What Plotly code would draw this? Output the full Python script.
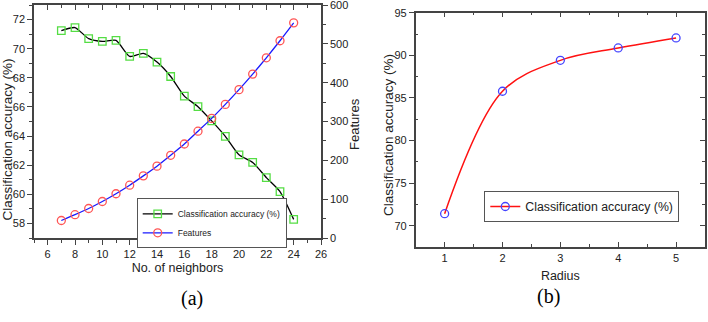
import plotly.graph_objects as go

neighbors = [7, 8, 9, 10, 11, 12, 13, 14, 15, 16, 17, 18, 19, 20, 21, 22, 23, 24]
accuracy_a = [71.24, 71.45, 70.69, 70.50, 70.57, 69.47, 69.68, 69.08, 68.09, 66.74,
              66.02, 65.04, 63.98, 62.71, 62.19, 61.15, 60.19, 58.28]
features = [45, 60, 76, 94, 114, 136, 160, 185, 213, 242, 275, 308, 344, 382, 422,
            464, 508, 554]

radius = [1, 2, 3, 4, 5]
accuracy_b = [71.41, 85.78, 89.41, 90.86, 92.04]

W, H = 708, 322
ax_col = "#444444"
txt_col = "#222222"
sans = "Liberation Sans, Arial"
tick_font = dict(family=sans, size=11, color=txt_col)
xtitle_font = dict(family=sans, size=12.5, color=txt_col)

# domains (paper fractions)
axd = [34 / W, 321 / W]
ayd = [1 - 238 / H, 1 - 5 / H]
bxd = [415.7 / W, 705 / W]
byd = [1 - 247 / H, 1 - 12.7 / H]

fig = go.Figure()

fig.add_trace(go.Scatter(
    x=neighbors, y=accuracy_a, mode="lines+markers", name="Classification accuracy (%)",
    line=dict(color="black", width=1.3, shape="spline", smoothing=0.6),
    marker=dict(symbol="square-open", size=7.5, color="#55dd44", line=dict(width=1.3)),
    xaxis="x", yaxis="y", legend="legend"))
fig.add_trace(go.Scatter(
    x=neighbors, y=features, mode="lines+markers", name="Features",
    line=dict(color="#1a1aff", width=1.3, shape="spline", smoothing=0.6),
    marker=dict(symbol="circle-open", size=8, color="#ff5555", line=dict(width=1.3)),
    xaxis="x", yaxis="y2", legend="legend"))

fig.add_trace(go.Scatter(
    x=radius, y=accuracy_b, mode="lines+markers", name="Classification accuracy (%)",
    line=dict(color="#ff1111", width=1.5, shape="spline", smoothing=1.0),
    marker=dict(symbol="circle-open", size=8, color="#4444ff", line=dict(width=1.3)),
    xaxis="x4", yaxis="y4", legend="legend2"))

common = dict(showgrid=False, zeroline=False, showline=True, linecolor=ax_col, automargin=False,
              linewidth=1.5, tickcolor=ax_col, tickfont=tick_font, ticklen=5, tickwidth=1.2,
              ticklabeloverflow="allow")

rot = dict(xref="paper", yref="paper", textangle=-90, showarrow=False,
           xanchor="center", yanchor="middle")

fig.update_layout(
    width=W, height=H, margin=dict(l=0, r=0, t=0, b=0, pad=0, autoexpand=False),
    paper_bgcolor="white", plot_bgcolor="white",
    xaxis=dict(domain=axd, range=[5, 26], tickvals=list(range(6, 27, 2)), ticks="outside",
               minor=dict(tickvals=list(range(5, 27, 2)), ticks="outside", ticklen=3, tickcolor=ax_col),
               title=dict(text="No. of neighbors", font=xtitle_font, standoff=4),
               anchor="y", mirror=True, **common),
    yaxis=dict(domain=ayd, range=[57, 73], tickvals=list(range(58, 73, 2)), ticks="outside",
               minor=dict(tickvals=list(range(57, 74, 2)), ticks="outside", ticklen=3, tickcolor=ax_col),
               anchor="x", **common),
    yaxis2=dict(domain=ayd, range=[0, 600], tickvals=list(range(0, 601, 100)), ticks="outside",
                minor=dict(tickvals=list(range(50, 600, 100)), ticks="outside", ticklen=3, tickcolor=ax_col),
                overlaying="y", side="right", anchor="x", **common),
    xaxis3=dict(domain=axd, range=[5, 26], tickvals=list(range(6, 27, 2)), ticks="inside",
                showticklabels=False, overlaying="x", side="top", anchor="y",
                minor=dict(tickvals=list(range(5, 27, 2)), ticks="inside", ticklen=3, tickcolor=ax_col),
                **common),
    xaxis4=dict(domain=bxd, range=[0.5, 5.5], tickvals=radius, ticks="inside",
                minor=dict(tickvals=[1.5, 2.5, 3.5, 4.5], ticks="inside", ticklen=3, tickcolor=ax_col),
                title=dict(text="Radius", font=xtitle_font, standoff=8),
                anchor="y4", mirror=True, **common),
    yaxis4=dict(domain=byd, range=[67.5, 95], tickvals=[70, 75, 80, 85, 90, 95], ticks="outside",
                minor=dict(tickvals=[72.5, 77.5, 82.5, 87.5, 92.5], ticks="inside", ticklen=3, tickcolor=ax_col),
                anchor="x4", mirror=True, **common),
    xaxis5=dict(domain=bxd, range=[0.5, 5.5], tickvals=radius, ticks="inside",
                showticklabels=False, overlaying="x4", side="top", anchor="y4",
                minor=dict(tickvals=[1.5, 2.5, 3.5, 4.5], ticks="inside", ticklen=3, tickcolor=ax_col),
                **common),
    yaxis5=dict(domain=byd, range=[67.5, 95], tickvals=[70, 75, 80, 85, 90, 95], ticks="inside",
                showticklabels=False, overlaying="y4", side="right", anchor="x4",
                minor=dict(tickvals=[72.5, 77.5, 82.5, 87.5, 92.5], ticks="inside", ticklen=3, tickcolor=ax_col),
                **common),
    legend=dict(x=136.7 / W, y=1 - 198.3 / H, xanchor="left", yanchor="top",
                bgcolor="white", bordercolor="#555555", borderwidth=1,
                font=dict(family=sans, size=8.5, color=txt_col),
                itemwidth=30, tracegroupgap=0),
    legend2=dict(x=484.3 / W, y=1 - 191 / H, xanchor="left", yanchor="top",
                 bgcolor="white", bordercolor="#555555", borderwidth=1,
                 font=dict(family=sans, size=12.3, color=txt_col),
                 itemwidth=30),
    annotations=[
        dict(text="Classification accuracy (%)", x=7.5 / W, y=1 - 140 / H,
             font=dict(family=sans, size=13.5, color=txt_col), **rot),
        dict(text="Features", x=354 / W, y=1 - 124 / H,
             font=dict(family=sans, size=13, color=txt_col), **rot),
        dict(text="Classification accuracy (%)", x=388 / W, y=1 - 135 / H,
             font=dict(family=sans, size=13.5, color=txt_col), **rot),
        dict(text="(a)", x=179 / W, y=1 - 311.5 / H, xref="paper", yref="paper",
             showarrow=False, font=dict(family="Liberation Serif, Times New Roman", size=20, color="black")),
        dict(text="(b)", x=561.7 / W, y=1 - 310 / H, xref="paper", yref="paper",
             showarrow=False, font=dict(family="Liberation Serif, Times New Roman", size=20, color="black")),
    ],
)

# Dummy traces to activate overlay axes
fig.add_trace(go.Scatter(x=[None], y=[None], xaxis="x3", yaxis="y", showlegend=False, hoverinfo="skip"))
fig.add_trace(go.Scatter(x=[None], y=[None], xaxis="x5", yaxis="y5", showlegend=False, hoverinfo="skip"))

fig.write_html("out.html", config={"displayModeBar": False},
               post_script="document.body.style.margin='0';document.body.style.padding='0';")
